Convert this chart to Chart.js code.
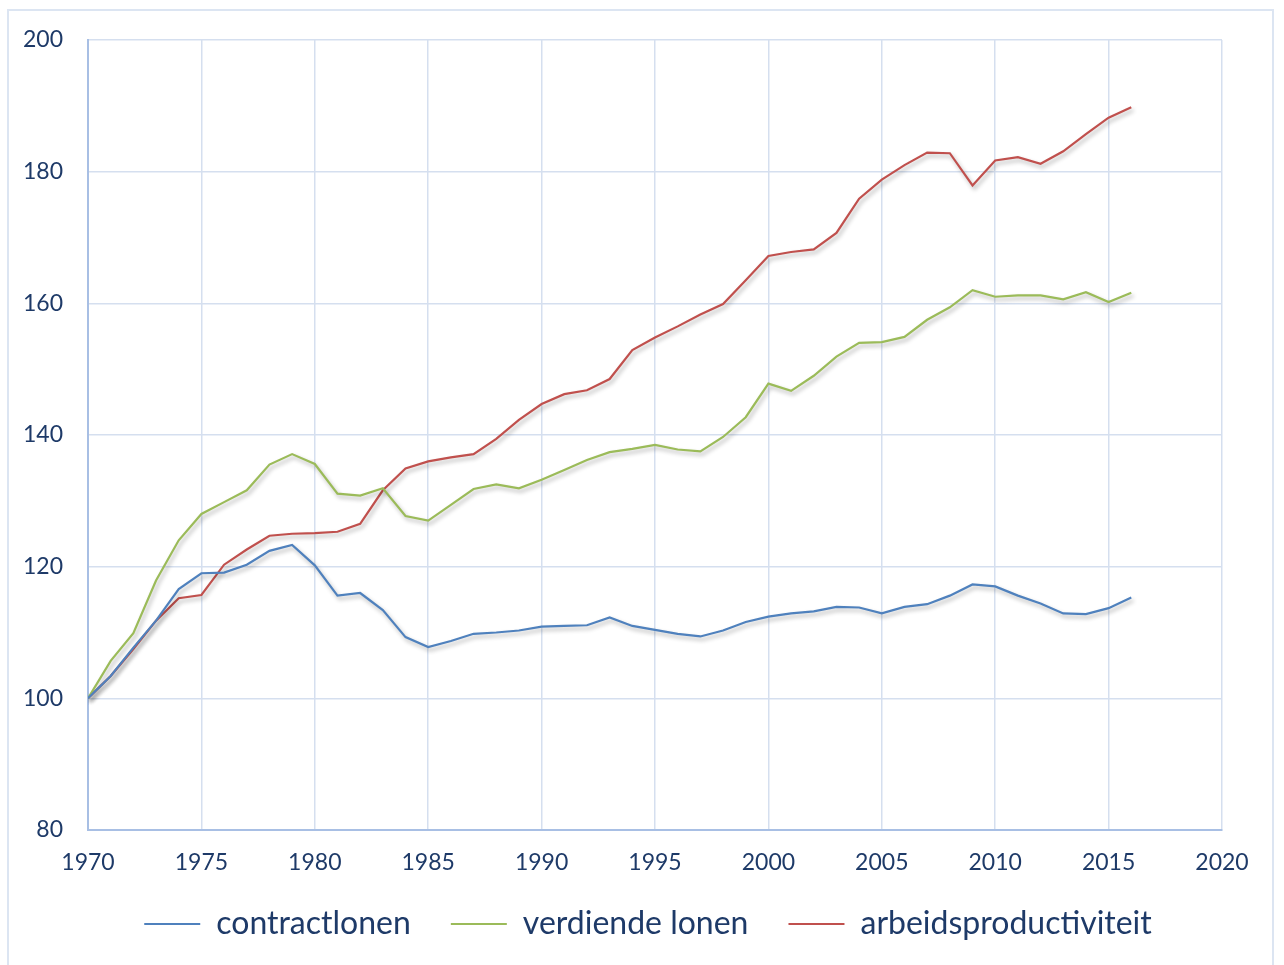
<!DOCTYPE html>
<html lang="nl">
<head>
    <meta charset="UTF-8">
    <title>Lonen en arbeidsproductiviteit</title>
    <script src="https://cdn.jsdelivr.net/npm/chart.js"></script>
    <style>
        html, body { margin: 0; padding: 0; background: #fff; }
        #frame {
            position: absolute; left: 7px; top: 9px;
            width: 1263px; height: 1000px;
            border: 2px solid #DCE5F2;
        }
        #chart { position: absolute; left: 0; top: 0; }
    </style>
</head>
<body>
    <div id="frame"></div>
    <canvas id="chart" width="1284" height="965"></canvas>

    <script>
        // Data (index 1970 = 100)
        const years = [
            1970, 1971, 1972, 1973, 1974, 1975, 1976, 1977, 1978, 1979,
            1980, 1981, 1982, 1983, 1984, 1985, 1986, 1987, 1988, 1989,
            1990, 1991, 1992, 1993, 1994, 1995, 1996, 1997, 1998, 1999,
            2000, 2001, 2002, 2003, 2004, 2005, 2006, 2007, 2008, 2009,
            2010, 2011, 2012, 2013, 2014, 2015, 2016
        ];
        const contractlonen = [
            100.0, 103.4, 107.7, 111.8, 116.6, 119.0, 119.1, 120.3, 122.4, 123.3,
            120.2, 115.6, 116.0, 113.4, 109.3, 107.8, 108.7, 109.8, 110.0, 110.3,
            110.9, 111.0, 111.1, 112.3, 111.0, 110.4, 109.8, 109.4, 110.3, 111.6,
            112.4, 112.9, 113.2, 113.9, 113.8, 112.9, 113.9, 114.3, 115.6, 117.3,
            117.0, 115.6, 114.4, 112.9, 112.8, 113.7, 115.3
        ];
        const verdiendeLonen = [
            100.0, 105.7, 109.9, 117.9, 124.0, 128.0, 129.8, 131.6, 135.5, 137.1,
            135.6, 131.1, 130.8, 131.9, 127.7, 127.0, 129.4, 131.8, 132.5, 131.9,
            133.2, 134.7, 136.2, 137.4, 137.9, 138.5, 137.8, 137.5, 139.7, 142.7,
            147.8, 146.7, 149.0, 151.9, 154.0, 154.1, 154.9, 157.5, 159.4, 162.0,
            161.0, 161.2, 161.2, 160.6, 161.7, 160.2, 161.6
        ];
        const arbeidsproductiviteit = [
            100.0, 103.4, 107.5, 111.8, 115.2, 115.7, 120.3, 122.6, 124.7, 125.0,
            125.1, 125.3, 126.5, 131.6, 134.9, 136.0, 136.6, 137.1, 139.4, 142.3,
            144.7, 146.2, 146.8, 148.5, 152.9, 154.8, 156.5, 158.3, 159.9, 163.5,
            167.2, 167.8, 168.2, 170.7, 175.9, 178.8, 181.0, 182.9, 182.8, 177.9,
            181.7, 182.2, 181.2, 183.1, 185.7, 188.2, 189.8
        ];

        const textColor = '#1E3A68';
        const gridColor = '#D5DFEF';
        const axisColor = '#A8BFE4';

        function toPoints(values) {
            return values.map((v, i) => ({ x: years[i], y: v }));
        }

        function makeSeries(label, values, color) {
            return {
                label: label,
                data: toPoints(values),
                borderColor: color,
                backgroundColor: color,
                borderWidth: 2.2,
                pointRadius: 0,
                tension: 0,
                fill: false
            };
        }

        // soft drop shadow under the lines, like the original
        const lineShadow = {
            id: 'lineShadow',
            beforeDatasetDraw(chart) {
                const c = chart.ctx;
                c.save();
                c.shadowColor = 'rgba(0, 0, 0, 0.3)';
                c.shadowBlur = 4;
                c.shadowOffsetX = 2;
                c.shadowOffsetY = 3;
            },
            afterDatasetDraw(chart) {
                chart.ctx.restore();
            }
        };

        // nudge the legend up/left a bit so it sits where the original has it
        const legendNudge = {
            id: 'legendNudge',
            afterLayout(chart) {
                const lg = chart.legend;
                if (!lg) return;
                lg.top -= 15; lg.bottom -= 15;
                lg.left -= 7; lg.right -= 7;
            }
        };

        new Chart(document.getElementById('chart').getContext('2d'), {
            type: 'line',
            data: {
                datasets: [
                    makeSeries('contractlonen', contractlonen, '#4F81BD'),
                    makeSeries('verdiende lonen', verdiendeLonen, '#9BBB59'),
                    makeSeries('arbeidsproductiviteit', arbeidsproductiviteit, '#C0504D')
                ]
            },
            options: {
                responsive: false,
                animation: false,
                devicePixelRatio: 1,
                layout: { padding: { left: 8, top: 40, right: 62, bottom: 0 } },
                scales: {
                    x: {
                        type: 'linear',
                        min: 1970,
                        max: 2020,
                        afterFit: (scale) => { scale.height = 53; },
                        ticks: {
                            stepSize: 5,
                            padding: 19,
                            color: textColor,
                            font: { family: 'Lato', size: 23 },
                            callback: (v) => String(v),
                            maxRotation: 0
                        },
                        grid: { color: gridColor, lineWidth: 1.5, drawTicks: false },
                        border: { color: axisColor, width: 2 }
                    },
                    y: {
                        min: 80,
                        max: 200,
                        afterFit: (scale) => { scale.width = 80; },
                        ticks: {
                            stepSize: 20,
                            padding: 25,
                            color: textColor,
                            font: { family: 'Lato', size: 23 }
                        },
                        grid: { color: gridColor, lineWidth: 1.5, drawTicks: false },
                        border: { color: axisColor, width: 2 }
                    }
                },
                plugins: {
                    legend: {
                        position: 'bottom',
                        fullSize: false,
                        labels: {
                            color: textColor,
                            font: { family: 'Lato', size: 32 },
                            usePointStyle: true,
                            pointStyle: 'line',
                            pointStyleWidth: 56,
                            padding: 40
                        }
                    },
                    tooltip: { enabled: false }
                }
            },
            plugins: [lineShadow, legendNudge]
        });
    </script>
</body>
</html>
